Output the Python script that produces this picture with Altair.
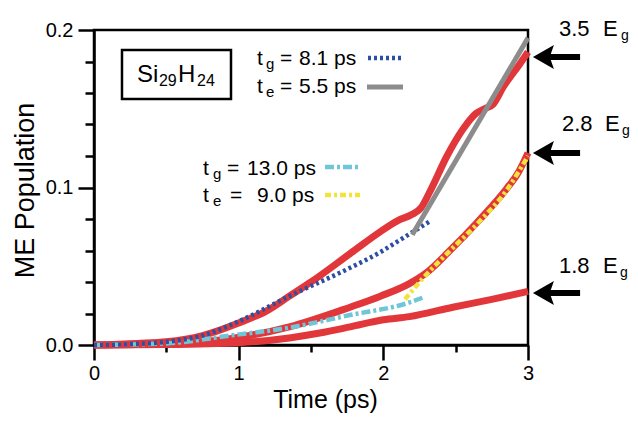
import altair as alt
import pandas as pd

FONT = "Liberation Sans"

# ---- simulated populations (red curves) ----
t_hi = [0, 0.3, 0.5, 0.75, 1.0, 1.2, 1.35, 1.5, 1.77, 1.98, 2.1, 2.2, 2.26, 2.32, 2.44, 2.55, 2.64, 2.70, 2.76, 2.83, 2.94, 3.0]
p_hi = [0, 0.001, 0.002, 0.006, 0.014, 0.022, 0.031, 0.040, 0.058, 0.072, 0.079, 0.083, 0.087, 0.097, 0.120, 0.137, 0.147, 0.150, 0.153, 0.164, 0.178, 0.186]

t_mid = [0, 0.5, 0.94, 1.35, 1.77, 1.98, 2.18, 2.3, 2.45, 2.67, 2.85, 2.93, 3.0]
p_mid = [0, 0.0008, 0.004, 0.0115, 0.024, 0.031, 0.039, 0.046, 0.059, 0.080, 0.099, 0.109, 0.122]

t_lo = [0, 0.5, 1.0, 1.35, 1.56, 1.77, 2.0, 2.18, 2.48, 2.75, 3.0]
p_lo = [0, 0.0003, 0.0015, 0.0045, 0.0076, 0.0115, 0.016, 0.018, 0.024, 0.029, 0.034]

# ---- fits ----
t_blue = [0, 0.25, 0.5, 0.75, 1.0, 1.35, 1.77, 1.98, 2.12, 2.33]
p_blue = [0, 0.0005, 0.002, 0.006, 0.015, 0.031, 0.049, 0.059, 0.067, 0.079]

t_cyan = [0, 0.5, 0.94, 1.35, 1.77, 2.18, 2.27]
p_cyan = [0, 0.001, 0.006, 0.011, 0.019, 0.027, 0.030]

t_yel = [2.15, 2.27, 2.44, 2.67, 2.85, 3.0]
p_yel = [0.029, 0.042, 0.058, 0.079, 0.098, 0.120]

t_gray = [2.2, 3.0]
p_gray = [0.070, 0.195]

# ---- annotation texts ----
lab_text = ["t", "g", "=", "8.1 ps",
            "t", "e", "=", "5.5 ps",
            "t", "g", "=", "13.0 ps",
            "t", "e", "=", "9.0 ps",
            "Si", "29", "H", "24",
            "3.5", "E", "g",
            "2.8", "E", "g",
            "1.8", "E", "g"]
lab_x = [1.127, 1.189, 1.286, 1.417,
         1.127, 1.189, 1.286, 1.417,
         0.753, 0.823, 0.919, 1.058,
         0.753, 0.823, 0.940, 1.127,
         0.297, 0.449, 0.581, 0.712,
         3.214, 3.518, 3.643,
         3.235, 3.532, 3.650,
         3.214, 3.518, 3.636]
lab_y = [0.1778, 0.1752, 0.1778, 0.1778,
         0.1600, 0.1575, 0.1600, 0.1600,
         0.1079, 0.1054, 0.1079, 0.1079,
         0.0908, 0.0883, 0.0908, 0.0908,
         0.1670, 0.1644, 0.1670, 0.1644,
         0.1962, 0.1962, 0.1937,
         0.1359, 0.1359, 0.1333,
         0.0457, 0.0457, 0.0432]
lab_fs = [21, 15, 21, 21,
          21, 15, 21, 21,
          21, 15, 21, 21,
          21, 15, 21, 21,
          24, 16, 24, 16,
          22, 22, 14,
          22, 22, 14,
          22, 22, 14]

# legend samples (x start, x end, y)
samp_x1 = {"blue": 1.894, "gray": 1.887, "cyan": 1.597, "yel": 1.597}
samp_x2 = {"blue": 2.129, "gray": 2.136, "cyan": 1.839, "yel": 1.839}
samp_y = {"blue": 0.1822, "gray": 0.1638, "cyan": 0.1130, "yel": 0.0952}

# arrows pointing to final populations
arrow_y = [0.1829, 0.1219, 0.0330]
arrow_tip = 3.117
arrow_end = 3.36

# compound label box
box_x1, box_x2, box_y1, box_y2 = 0.1935, 0.947, 0.1562, 0.1873

xs = alt.Scale(domain=[0, 3], nice=False, zero=False)
ys = alt.Scale(domain=[0, 0.2], nice=False, zero=False)

xaxis = alt.Axis(
    values=[0, 0.5, 1, 1.5, 2, 2.5, 3],
    labelExpr="datum.value % 1 == 0 ? format(datum.value, 'd') : ''",
    tickSize={"condition": {"test": "datum.value % 1 == 0", "value": 15}, "value": 7},
    title="Time (ps)", titleX=231, titleY=62, titleBaseline="alphabetic", titleFontSize=25,
    labelPadding=3,
)
yaxis = alt.Axis(
    values=[round(0.02 * i, 2) for i in range(11)],
    labelExpr="abs(datum.value*10 - round(datum.value*10)) < 0.000001 ? format(datum.value, '.1f') : ''",
    tickSize={"condition": {"test": "abs(datum.value*10 - round(datum.value*10)) < 0.000001", "value": 16}, "value": 9},
    title="ME Population", titleAngle=270, titleX=-61, titleY=160, titleFontSize=27,
    titleBaseline="alphabetic", titleAlign="center", labelPadding=5,
)

X = lambda f: alt.X(f, type="quantitative", scale=xs, axis=xaxis)
Y = lambda f: alt.Y(f, type="quantitative", scale=ys, axis=yaxis)

def curve(ts, ps, **mk):
    df = pd.DataFrame({"t": ts, "p": ps})
    return alt.Chart(df).mark_line(**mk).encode(x=X("t"), y=Y("p"))

RED = "#e1373b"
red_style = dict(color=RED, strokeWidth=7, interpolate="monotone", strokeCap="butt")
layers = [
    curve(t_lo, p_lo, **red_style),
    curve(t_mid, p_mid, **red_style),
    curve(t_hi, p_hi, **red_style),
]

styles = {
    "cyan": dict(color="#6ec6d8", strokeWidth=4.5, strokeDash=[9, 3, 3, 3]),
    "blue": dict(color="#2d4fa3", strokeWidth=4.5, strokeDash=[3, 3]),
    "yel": dict(color="#f3e23a", strokeWidth=4.5, strokeDash=[6, 3, 3, 3]),
    "gray": dict(color="#8c8c8c", strokeWidth=5),
}
fits = {"cyan": (t_cyan, p_cyan), "blue": (t_blue, p_blue), "yel": (t_yel, p_yel), "gray": (t_gray, p_gray)}
for k in ["cyan", "blue", "yel", "gray"]:
    ts, ps = fits[k]
    interp = "linear" if k == "gray" else "monotone"
    layers.append(curve(ts, ps, interpolate=interp, **styles[k]))
    sdf = pd.DataFrame({"t": [samp_x1[k]], "t2": [samp_x2[k]], "p": [samp_y[k]]})
    layers.append(alt.Chart(sdf).mark_rule(**styles[k]).encode(x=X("t"), x2="t2", y=Y("p")))

# box around compound name
bdf = pd.DataFrame({"t": [box_x1], "t2": [box_x2], "p": [box_y1], "p2": [box_y2]})
layers.append(alt.Chart(bdf).mark_rect(fill="white", stroke="black", strokeWidth=2.5).encode(
    x=X("t"), x2="t2", y=Y("p"), y2="p2"))

# texts
ldf = pd.DataFrame({"t": lab_x, "p": lab_y, "txt": lab_text, "fs": lab_fs})
layers.append(alt.Chart(ldf).mark_text(align="left", baseline="alphabetic", font=FONT, color="black").encode(
    x=X("t"), y=Y("p"), text="txt:N", size=alt.Size("fs:Q", scale=None, legend=None)))

# arrows
adf = pd.DataFrame({"t": [arrow_tip] * 3, "t2": [arrow_end] * 3, "p": arrow_y})
layers.append(alt.Chart(adf).mark_rule(color="black", strokeWidth=6).encode(
    x=X("t"), x2="t2", y=Y("p")))
layers.append(alt.Chart(adf).mark_point(
    shape="M -1 0 L 0.75 -1 L 0.4 0 L 0.75 1 Z", filled=True, color="black", opacity=1, size=576).encode(
    x=X("t"), y=Y("p")))

chart = alt.layer(*layers).properties(
    width=434, height=315,
    autosize=alt.AutoSizeParams(type="none"),
    padding={"left": 86, "top": 22, "right": 102, "bottom": 68},
).configure_view(stroke="black", strokeWidth=2.5).configure_axis(
    domainColor="black", domainWidth=2.5, tickColor="black", tickWidth=2.5,
    labelFont=FONT, labelFontSize=20, labelColor="black",
    titleFont=FONT, titleFontSize=26, titleFontWeight="normal", titleColor="black",
    grid=False, labelFlush=False, labelOverlap=False,
)

chart.save("out.html", embed_options={"renderer": "svg", "actions": False})
